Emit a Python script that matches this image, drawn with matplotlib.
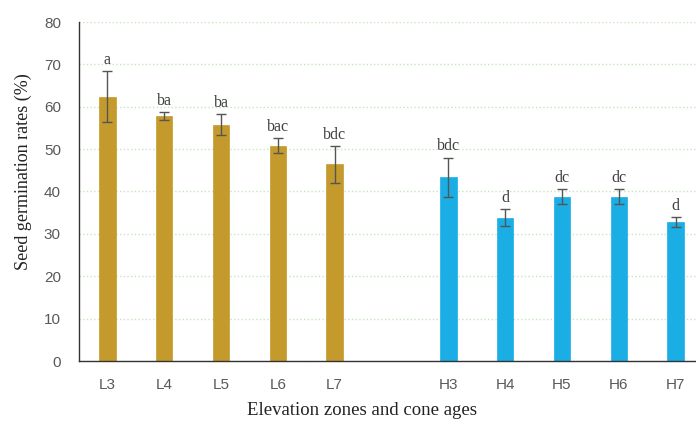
import matplotlib.pyplot as plt

# dados
labels = ['L3', 'L4', 'L5', 'L6', 'L7', 'H3', 'H4', 'H5', 'H6', 'H7']
rates = [62.4, 57.8, 55.8, 50.8, 46.4, 43.4, 33.8, 38.8, 38.8, 32.8]
errors = [6.0, 0.9, 2.5, 1.8, 4.3, 4.6, 2.0, 1.8, 1.8, 1.2]
letters = ['a', 'ba', 'ba', 'bac', 'bdc', 'bdc', 'd', 'dc', 'dc', 'd']
positions = [0, 1, 2, 3, 4, 6, 7, 8, 9, 10]
colors = ['#C49A2C'] * 5 + ['#1AAEE5'] * 5

fig = plt.figure(figsize=(6.96, 4.23), dpi=100)
ax = fig.add_axes([79 / 696, 62 / 423, 625 / 696, 339 / 423])

ax.bar(positions, rates, width=0.29, color=colors, edgecolor=colors, linewidth=0.5, zorder=2)
ax.errorbar(positions, rates, yerr=errors, fmt='none', ecolor='#555555',
            elinewidth=1, capsize=3.5, capthick=1, zorder=3)

# letras de significância acima das barras de erro
for x, y, e, t in zip(positions, rates, errors, letters):
    ax.text(x, y + e + 0.8, t, ha='center', va='bottom', fontsize=11.5,
            family='Liberation Serif', color='#404040')

ax.set_xlim(-0.5, 10.5)
ax.set_ylim(0, 80)
ax.set_yticks(range(0, 81, 10))
ax.set_xticks(positions)
ax.set_xticklabels(labels)
ax.tick_params(length=0, labelsize=11, colors='#595959')
ax.tick_params(axis='x', pad=12)
ax.tick_params(axis='y', pad=13)
for lbl in ax.get_xticklabels() + ax.get_yticklabels():
    lbl.set_family('Liberation Sans')

ax.grid(axis='y', color='#C6E6C0', linestyle=':', linewidth=1, zorder=0)
ax.set_axisbelow(True)
for s in ['top', 'right']:
    ax.spines[s].set_visible(False)
for s in ['left', 'bottom']:
    ax.spines[s].set_color('#333333')
    ax.spines[s].set_linewidth(1)

ax.set_xlabel('Elevation zones and cone ages', family='Liberation Serif', fontsize=13.5, color='#222222')
ax.set_ylabel('Seed germination rates (%)', family='Liberation Serif', fontsize=13, color='#222222')
ax.xaxis.set_label_coords(0.453, -0.122)
ax.yaxis.set_label_coords(-0.076, 0.56)

fig.savefig('out.png', dpi=100)
